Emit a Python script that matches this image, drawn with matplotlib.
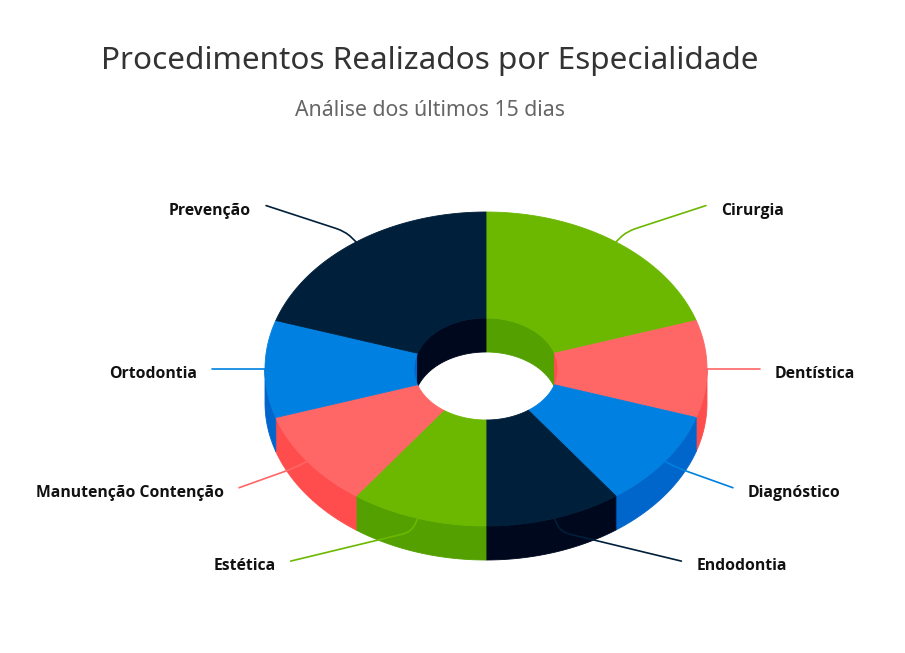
import numpy as np
import matplotlib
matplotlib.use("Agg")
import matplotlib.pyplot as plt
from matplotlib.patches import Polygon, PathPatch
from matplotlib.path import Path

# data (percent of procedures)
labels = ["Cirurgia", "Dentística", "Diagnóstico", "Endodontia",
          "Estética", "Manutenção Contenção", "Ortodontia", "Prevenção"]
values = [20, 10, 10, 10, 10, 10, 10, 20]
top_colors = ["#6cb800", "#ff6666", "#0080e0", "#001f3a",
              "#6cb800", "#ff6666", "#0080e0", "#001f3a"]
side_colors = ["#53a000", "#ff4d4d", "#0066cc", "#00081e",
               "#53a000", "#ff4d4d", "#0066cc", "#00081e"]

title = "Procedimentos Realizados por Especialidade"
subtitle = "Análise dos últimos 15 dias"

# pixel geometry of the 3d donut
W, H = 905, 653
cx, cy = 486, 369
rx, ry = 221, 157
irx, iry = 72, 51
depth = 34
label_r = 274   # radius of the label circle
label_ry = 202  # vertical reach of label anchors


def pt(a, sx, sy, dz=0):
    t = np.radians(a)
    return cx + sx * np.cos(t), cy - sy * np.sin(t) + dz


def arc(a1, a2, sx, sy, dz=0, n=80):
    t = np.linspace(a1, a2, n)
    x, y = pt(t, sx, sy, dz)
    return np.column_stack([x, y])


def clip(lo, hi, a, b):
    lo2, hi2 = max(lo, a), min(hi, b)
    return (lo2, hi2) if hi2 > lo2 else None


fig = plt.figure(figsize=(W / 100, H / 100), dpi=100)
ax = fig.add_axes([0, 0, 1, 1])
ax.set_xlim(0, W)
ax.set_ylim(H, 0)
ax.axis("off")

total = sum(values)
starts = []
a = 90.0
for v in values:
    starts.append((a, a - 360.0 * v / total))
    a -= 360.0 * v / total

# inner walls at the back of the hole
for (a1, a2), sc in zip(starts, side_colors):
    for rng in [(0, 90), (-270, -180)]:
        c = clip(a2, a1, *rng)
        if c is None:
            continue
        topp = arc(c[0], c[1], irx, iry)
        bot = arc(c[1], c[0], irx, iry, depth)
        ax.add_patch(Polygon(np.vstack([topp, bot]), closed=True, fc=sc, ec=sc, lw=0.6, zorder=1))

# outer walls in front
for (a1, a2), sc in zip(starts, side_colors):
    c = clip(a2, a1, -180, 0)
    if c is None:
        continue
    topp = arc(c[0], c[1], rx, ry)
    bot = arc(c[1], c[0], rx, ry, depth)
    ax.add_patch(Polygon(np.vstack([topp, bot]), closed=True, fc=sc, ec=sc, lw=0.6, zorder=2))

# top faces
for (a1, a2), tc in zip(starts, top_colors):
    outer = arc(a1, a2, rx, ry)
    inner = arc(a2, a1, irx, iry)
    ax.add_patch(Polygon(np.vstack([outer, inner]), closed=True, fc=tc, ec=tc, lw=0.6, zorder=3))

# connectors and labels
for (a1, a2), lab, tc in zip(starts, labels, top_colors):
    mid = (a1 + a2) / 2
    px, py = pt(mid, rx, ry)
    d = np.array([px - cx, py - cy])
    d = d / np.hypot(*d)
    bx, by = px + 15 * d[0], py + 15 * d[1]
    ly = cy - label_ry * np.sin(np.radians(mid))
    side = 1 if np.cos(np.radians(mid)) > 1e-6 else -1
    lx = cx + side * np.sqrt(max(label_r ** 2 - (ly - cy) ** 2, 0))
    # soft corner at the break point
    e = np.array([lx - bx, ly - by])
    e = e / max(np.hypot(*e), 1e-9)
    b1 = (bx - 8 * d[0], by - 8 * d[1])
    b2 = (bx + 10 * e[0], by + 10 * e[1])
    verts = [(px, py), b1, (bx, by), b2, (lx, ly)]
    codes = [Path.MOVETO, Path.LINETO, Path.CURVE3, Path.CURVE3, Path.LINETO]
    ax.add_patch(PathPatch(Path(verts, codes), fc="none", ec=tc, lw=1.2, zorder=4,
                           capstyle="round", joinstyle="round"))
    ax.text(lx + side * 15, ly + 5, lab, ha="left" if side > 0 else "right", va="center",
            fontsize=11.3, fontweight="bold", color="#111111", family="Open Sans", zorder=5)

ax.text(430, 61, title, ha="center", va="center", fontsize=22.7, color="#333333", family="Noto Sans")
ax.text(430, 110, subtitle, ha="center", va="center", fontsize=15.3, color="#666666", family="Noto Sans")

fig.savefig("out.png", dpi=100, facecolor="white")
